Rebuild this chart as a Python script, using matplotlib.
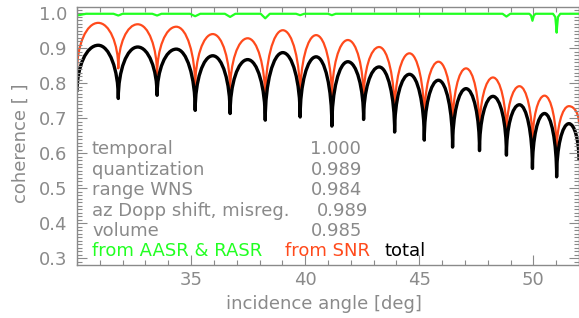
import matplotlib
matplotlib.use('Agg')
import matplotlib.pyplot as plt
from matplotlib.path import Path
from matplotlib.patches import PathPatch
from matplotlib.ticker import MultipleLocator, FormatStrFormatter

# ---------------- data ----------------
# scallop minima (cusps) and maxima of the SNR and total coherence
cusp_angle = [30.00, 31.81, 33.51, 35.18, 36.71, 38.25, 39.78, 41.17, 42.56,
              43.92, 45.22, 46.46, 47.64, 48.82, 49.96, 51.02, 52.00]
peak_angle = [30.93, 32.66, 34.35, 35.95, 37.48, 39.02, 40.48, 41.87, 43.24,
              44.57, 45.84, 47.05, 48.23, 49.39, 50.49, 51.56]
total_cusp = [0.776, 0.757, 0.766, 0.723, 0.714, 0.695, 0.704, 0.678, 0.697,
              0.661, 0.638, 0.618, 0.608, 0.595, 0.557, 0.533, 0.580]
total_peak = [0.909, 0.904, 0.898, 0.879, 0.868, 0.888, 0.876, 0.862, 0.847,
              0.826, 0.809, 0.785, 0.763, 0.739, 0.714, 0.685]
snr_cusp = [0.835, 0.843, 0.824, 0.788, 0.776, 0.752, 0.757, 0.752, 0.752,
            0.709, 0.690, 0.671, 0.658, 0.647, 0.623, 0.600, 0.685]
snr_peak = [0.973, 0.969, 0.962, 0.941, 0.929, 0.952, 0.938, 0.924, 0.904,
            0.886, 0.862, 0.843, 0.817, 0.792, 0.765, 0.735]

# coherence from ambiguities (AASR & RASR)
amb_angle = [30.00, 30.40, 31.60, 31.81, 32.00, 33.30, 33.51, 33.70, 34.95,
             35.18, 35.40, 36.48, 36.71, 36.94, 38.05, 38.25, 38.45, 39.60,
             39.78, 39.96, 41.00, 41.17, 41.34, 48.65, 48.82, 48.99, 49.82,
             49.90, 49.96, 50.02, 50.10, 50.86, 50.96, 51.00, 51.02, 51.04,
             51.08, 51.18, 52.00]
amb_val = [0.994, 0.999, 0.999, 0.994, 0.999, 0.999, 0.994, 0.999, 0.999,
           0.992, 0.999, 0.999, 0.990, 0.999, 0.999, 0.986, 0.999, 0.999,
           0.995, 0.999, 0.999, 0.995, 0.999, 0.999, 0.991, 0.999, 0.999,
           0.994, 0.979, 0.994, 0.999, 0.999, 0.990, 0.962, 0.945, 0.962,
           0.990, 0.999, 0.999]

# budget table
budget_names = ["temporal", "quantization", "range WNS",
                "az Dopp shift, misreg.", "volume"]
budget_values = ["1.000", "0.989", "0.984", "0.989", "0.985"]

x_ticks = [35, 40, 45, 50]

GRAY = '#8a8a8a'
GREEN = '#22ff22'
RED = '#ff4a1c'


def scallop_path(cx, cy, px, py, k=0.55):
    verts = [(cx[0], cy[0])]
    codes = [Path.MOVETO]
    for i in range(len(px)):
        x0, y0 = cx[i], cy[i]
        x1, y1 = px[i], py[i]
        x2, y2 = cx[i + 1], cy[i + 1]
        verts += [(x0, y0 + k * (y1 - y0)), (x1 - k * (x1 - x0), y1), (x1, y1)]
        verts += [(x1 + k * (x2 - x1), y1), (x2, y2 + k * (y1 - y2)), (x2, y2)]
        codes += [Path.CURVE4] * 6
    return Path(verts, codes)


W, H = 579, 318
fig = plt.figure(figsize=(W / 100, H / 100), dpi=100)
ax = fig.add_axes([77 / W, (H - 264.5) / H, 502 / W, (264.5 - 7.3) / H])

ax.set_xlim(30, 52)
ax.set_ylim(0.2825, 1.0175)

ax.plot(amb_angle, amb_val, color=GREEN, lw=1.6, solid_joinstyle='round')
ax.add_patch(PathPatch(scallop_path(cusp_angle, snr_cusp, peak_angle, snr_peak),
                       fill=False, edgecolor=RED, lw=1.6, joinstyle='round'))
ax.add_patch(PathPatch(scallop_path(cusp_angle, total_cusp, peak_angle, total_peak),
                       fill=False, edgecolor='black', lw=2.4, joinstyle='round'))

# axes styling
for s in ax.spines.values():
    s.set_color(GRAY)
    s.set_linewidth(1.0)
ax.set_xticks(x_ticks)
ax.xaxis.set_minor_locator(MultipleLocator(1))
ax.yaxis.set_major_locator(MultipleLocator(0.1))
ax.yaxis.set_minor_locator(MultipleLocator(0.01))
ax.yaxis.set_major_formatter(FormatStrFormatter('%.1f'))
ax.tick_params(which='both', direction='in', top=True, right=True,
               color=GRAY, labelcolor=GRAY, labelsize=13, width=0.8)
ax.tick_params(which='major', length=7)
ax.tick_params(which='minor', length=3.5)
ax.tick_params(axis='x', pad=5)
ax.tick_params(axis='y', pad=7)

ax.set_xlabel("incidence angle [deg]", color=GRAY, fontsize=13)
ax.xaxis.set_label_coords(0.492, -0.155)
ax.xaxis.label.set_va('center')
ax.set_ylabel("coherence [ ]", color=GRAY, fontsize=13)
ax.yaxis.set_label_coords(-0.113, 0.47)
ax.yaxis.label.set_va('center')

# budget text block (positions in pixels -> data)
def px2data(px, py):
    return (30 + (px - 77) / (502 / 22),
            1.0 - (py - 13.3) / 349.6)

row_base = [154, 174.5, 195, 215.5, 236]
val_x = [310.5, 310.5, 310.5, 316.7, 310.5]
for name, val, yb, vx in zip(budget_names, budget_values, row_base, val_x):
    x, y = px2data(92, yb)
    ax.text(x, y, name, color=GRAY, fontsize=13, va='baseline', ha='left')
    x, y = px2data(vx, yb)
    ax.text(x, y, val, color=GRAY, fontsize=13, va='baseline', ha='left')

legend_items = [("from AASR & RASR", GREEN, 92), ("from SNR", RED, 285),
                ("total", 'black', 384)]
for txt, col, lx in legend_items:
    x, y = px2data(lx, 256)
    ax.text(x, y, txt, color=col, fontsize=13, va='baseline', ha='left')

fig.savefig('out.png', dpi=100)
